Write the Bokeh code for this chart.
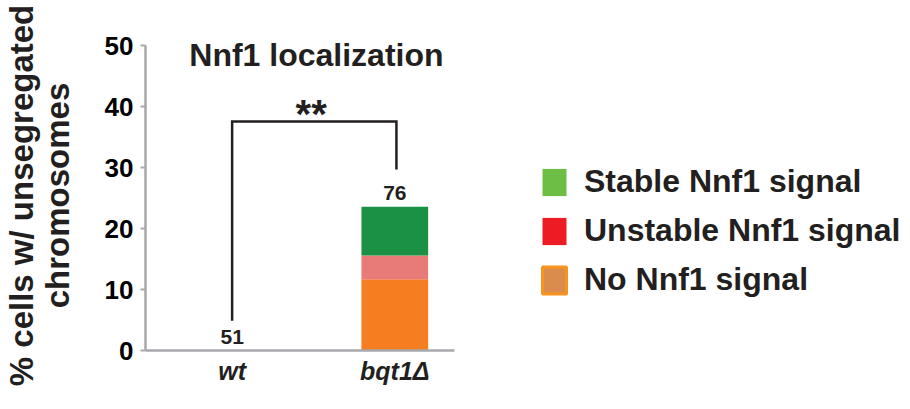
from bokeh.plotting import figure
from bokeh.models import Range1d, FixedTicker, Legend, LegendItem, ColumnDataSource
from bokeh.core.properties import value
from bokeh.embed import file_html
from bokeh.resources import INLINE

# ---- data ----
categories = ["wt", "bqt1Δ"]
n_cells = [51, 76]
no_signal = [0.0, 11.7]
unstable = [0.0, 3.9]
stable = [0.0, 8.0]
y_ticks = [0, 10, 20, 30, 40, 50]
legend_labels = ["Stable Nnf1 signal", "Unstable Nnf1 signal", "No Nnf1 signal"]
title_text = "Nnf1 localization"
y_label = "% cells w/ unsegregated\nchromosomes"
signif_text = "**"
# significance bracket heights (data units)
bracket_top = 37.6
bracket_left_bottom = 4.9
bracket_right_bottom = 29.7

FONT = "Liberation Sans"
INK = "#231F20"
GRAY = "#A7A9AC"

xs = [i + 0.5 for i in range(len(categories))]
totals = [a + b + c for a, b, c in zip(no_signal, unstable, stable)]

src = ColumnDataSource(dict(x=xs, cat=categories, no_signal=no_signal,
                            unstable=unstable, stable=stable,
                            total=totals, n=[str(v) for v in n_cells]))

x_start, x_end = -0.0325, 4.67
p = figure(width=910, height=400, output_backend="svg", toolbar_location=None,
           x_range=Range1d(x_start, x_end), y_range=Range1d(0, 50.9),
           min_border_left=144, min_border_right=0, min_border_top=40,
           min_border_bottom=50)
p.grid.visible = False
p.outline_line_color = None
p.background_fill_color = None
p.border_fill_color = "white"

# bars
p.vbar_stack(["no_signal", "unstable", "stable"], x="x", width=0.41, source=src,
             fill_color=["#F47E20", "#E87A78", "#1B9146"], line_color=None)

# n labels
p.text(x="x", y="total", text="n", source=src, text_align="center",
       text_baseline="alphabetic", y_offset=-14, text_font=value(FONT),
       text_font_style="bold", text_font_size="21px", text_color=INK)

# significance bracket
bx = [xs[0], xs[0], xs[1] + 0.01, xs[1] + 0.01]
by = [bracket_left_bottom, bracket_top, bracket_top, bracket_right_bottom]
p.line(bx, by, line_color=INK, line_width=2.5, line_join="miter")
p.text(x=[(xs[0] + xs[1]) / 2 - 0.014], y=[38.8], text=[signif_text],
       text_align="center", text_baseline="alphabetic", text_font=value(FONT),
       text_font_style="bold", text_font_size="40px", text_color=INK)

# title inside the plot
p.text(x=[1.018], y=[48.5], text=[title_text], text_align="center",
       text_baseline="alphabetic", text_font=value(FONT), text_font_style="bold",
       text_font_size="32px", text_color=INK)

# axes
ya = p.yaxis[0]
ya.ticker = FixedTicker(ticks=y_ticks)
ya.bounds = (0, 50)
ya.axis_line_color = GRAY
ya.axis_line_width = 2.5
ya.major_tick_line_color = GRAY
ya.major_tick_line_width = 2
ya.major_tick_out = 5
ya.major_tick_in = 0
ya.minor_tick_line_color = None
ya.major_label_standoff = 7
ya.major_label_text_font = FONT
ya.major_label_text_font_style = "bold"
ya.major_label_text_font_size = "26px"
ya.major_label_text_color = "black"
ya.axis_label = y_label
ya.axis_label_text_font = FONT
ya.axis_label_text_font_style = "bold"
ya.axis_label_text_font_size = "33px"
ya.axis_label_text_line_height = 0.96
ya.axis_label_text_color = INK
ya.axis_label_standoff = 26

xa = p.xaxis[0]
xa.ticker = FixedTicker(ticks=xs)
xa.major_label_overrides = {x: c for x, c in zip(xs, categories)}
xa.bounds = (x_start, 1.866)
xa.axis_line_color = GRAY
xa.axis_line_width = 2.5
xa.major_tick_line_color = None
xa.minor_tick_line_color = None
xa.major_tick_out = 0
xa.major_tick_in = 0
xa.major_label_standoff = 6
xa.major_label_text_font = FONT
xa.major_label_text_font_style = "bold italic"
xa.major_label_text_font_size = "25px"
xa.major_label_text_color = INK

# legend (swatch renderers that draw nothing in the plot)
nan = float("nan")
def swatch(**kw):
    return p.vbar(x="x", top="top", width=0.1,
                  source=ColumnDataSource(dict(x=[nan], top=[nan])), **kw)

r_st = swatch(fill_color="#6DBE45", line_color=None)
r_un = swatch(fill_color="#ED1C24", line_color=None)
r_no = swatch(fill_color="#DA8C4F", line_color="#F7941D", line_width=3)
legend = Legend(items=[LegendItem(label=legend_labels[0], renderers=[r_st]),
                       LegendItem(label=legend_labels[1], renderers=[r_un]),
                       LegendItem(label=legend_labels[2], renderers=[r_no])],
                location=(394, 52), orientation="vertical")
legend.background_fill_alpha = 0
legend.border_line_alpha = 0
legend.padding = 0
legend.margin = 0
legend.spacing = 12
legend.glyph_width = 30
legend.glyph_height = 34
legend.label_standoff = 15
legend.label_text_font = FONT
legend.label_text_font_style = "bold"
legend.label_text_font_size = "32px"
legend.label_text_color = INK
p.add_layout(legend, "center")

open("out.html", "w").write(file_html(p, INLINE))
